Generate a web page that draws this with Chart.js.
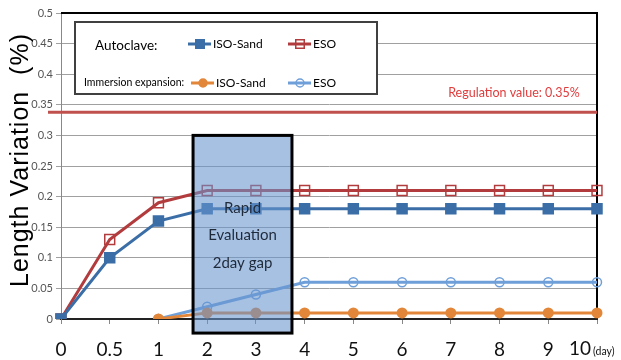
<!DOCTYPE html>
<html>
<head>
<meta charset="utf-8">
<script src="https://cdn.jsdelivr.net/npm/chart.js@4.4.1/dist/chart.umd.min.js"></script>
<style>
  html, body { margin: 0; padding: 0; background: #fff; }
  #wrap { width: 621px; height: 360px; }
</style>
</head>
<body>
<div id="wrap"><canvas id="grafik"></canvas></div>
<script>
// data
const hari = ['0', '0.5', '1', '2', '3', '4', '5', '6', '7', '8', '9', '10'];
const autoIsoSand = [0, 0.10, 0.16, 0.18, 0.18, 0.18, 0.18, 0.18, 0.18, 0.18, 0.18, 0.18];
const autoEso = [0, 0.13, 0.19, 0.21, 0.21, 0.21, 0.21, 0.21, 0.21, 0.21, 0.21, 0.21];
const immIsoSand = [null, null, 0, 0.01, 0.01, 0.01, 0.01, 0.01, 0.01, 0.01, 0.01, 0.01];
const immEso = [null, null, 0, 0.02, 0.04, 0.06, 0.06, 0.06, 0.06, 0.06, 0.06, 0.06];
const yTicks = [0, 0.05, 0.1, 0.15, 0.2, 0.25, 0.3, 0.35, 0.4, 0.45, 0.5];
const regulationValue = 0.338;
// shaded "2day gap" box, in category index / value units
const gapBox = { x0: 2.71, x1: 4.74, y0: -0.023, y1: 0.30 };

const SEMPIT = "Lato, 'Open Sans', sans-serif";

const warna = {
  autoIso: '#3b6ea6',
  autoEso: '#b23c3d',
  immIso: '#e2873a',
  immEso: '#6f9fd9',
};

function drawMark(ctx, style, x, y, r, color, filled) {
  ctx.save();
  ctx.lineWidth = 1.5;
  ctx.strokeStyle = color;
  ctx.fillStyle = filled ? color : '#fff';
  ctx.beginPath();
  if (style === 'rect') {
    const s = r * Math.SQRT1_2;
    ctx.rect(x - s, y - s, 2 * s, 2 * s);
  } else {
    ctx.arc(x, y, r, 0, Math.PI * 2);
  }
  if (filled) ctx.fill();
  ctx.stroke();
  ctx.restore();
}

const hiasan = {
  id: 'hiasan',
  beforeDatasetsDraw(chart) {
    const { ctx, chartArea, scales } = chart;
    // plot frame top and right
    ctx.save();
    ctx.strokeStyle = '#000';
    ctx.lineWidth = 2;
    ctx.beginPath();
    ctx.moveTo(chartArea.left, chartArea.top);
    ctx.lineTo(chartArea.right, chartArea.top);
    ctx.lineTo(chartArea.right, chartArea.bottom);
    ctx.stroke();
    // regulation line
    const yr = scales.y.getPixelForValue(regulationValue);
    ctx.strokeStyle = '#c0504d';
    ctx.lineWidth = 3;
    ctx.beginPath();
    ctx.moveTo(chartArea.left - 13, yr);
    ctx.lineTo(chartArea.right, yr);
    ctx.stroke();
    ctx.fillStyle = '#e03c3c';
    ctx.font = '12.5px ' + SEMPIT;
    ctx.textAlign = 'center';
    ctx.textBaseline = 'middle';
    ctx.fillText('Regulation value: 0.35%', 514, yr - 19);
    // y axis title
    ctx.save();
    ctx.translate(28, 160);
    ctx.rotate(-Math.PI / 2);
    ctx.fillStyle = '#000';
    ctx.font = "25px 'Liberation Sans', Arial, sans-serif";
    ctx.letterSpacing = '1px';
    ctx.textBaseline = 'alphabetic';
    ctx.fillText('Length Variation  (%)', 0, 0);
    ctx.restore();
    ctx.restore();
  },
  afterDatasetsDraw(chart) {
    const { ctx, chartArea, scales } = chart;
    ctx.save();
    // gap box
    const bx0 = scales.x.getPixelForValue(gapBox.x0);
    const bx1 = scales.x.getPixelForValue(gapBox.x1);
    const by0 = scales.y.getPixelForValue(gapBox.y1);
    const by1 = scales.y.getPixelForValue(gapBox.y0);
    ctx.fillStyle = 'rgba(104, 148, 206, 0.58)';
    ctx.fillRect(bx0, by0, bx1 - bx0, by1 - by0);
    ctx.strokeStyle = '#000';
    ctx.lineWidth = 3;
    ctx.strokeRect(bx0, by0, bx1 - bx0, by1 - by0);
    ctx.fillStyle = '#1f2a3a';
    ctx.font = '15px ' + SEMPIT;
    ctx.textAlign = 'center';
    ctx.textBaseline = 'middle';
    const cx = (bx0 + bx1) / 2;
    ctx.fillText('Rapid', cx, 208);
    ctx.fillText('Evaluation', cx, 235);
    ctx.fillText('2day gap', cx, 263);

    // legend box
    ctx.fillStyle = '#fff';
    ctx.fillRect(75, 22, 302, 72);
    ctx.strokeStyle = '#404040';
    ctx.lineWidth = 2;
    ctx.strokeRect(75, 22, 302, 72);
    ctx.fillStyle = '#000';
    ctx.textAlign = 'left';
    ctx.font = '13.5px ' + SEMPIT;
    ctx.fillText('Autoclave:', 95, 46);
    ctx.font = '10.5px ' + SEMPIT;
    ctx.fillText('Immersion expansion:', 84, 83);
    const items = [
      { x: 188, y: 44, c: warna.autoIso, s: 'rect', f: true, t: 'ISO-Sand' },
      { x: 288, y: 44, c: warna.autoEso, s: 'rect', f: false, t: 'ESO' },
      { x: 191, y: 83, c: warna.immIso, s: 'circle', f: true, t: 'ISO-Sand' },
      { x: 288, y: 83, c: warna.immEso, s: 'circle', f: false, t: 'ESO' },
    ];
    ctx.font = '12px ' + SEMPIT;
    items.forEach(it => {
      ctx.strokeStyle = it.c;
      ctx.lineWidth = 3;
      ctx.beginPath();
      ctx.moveTo(it.x, it.y);
      ctx.lineTo(it.x + 23, it.y);
      ctx.stroke();
      drawMark(ctx, it.s, it.x + 12, it.y, it.s === 'rect' ? 6 : 4, it.c, it.f);
      ctx.fillStyle = '#000';
      ctx.fillText(it.t, it.x + 25, it.y);
    });

    // last x label sits left of its tick, then the unit
    const lastIdx = hari.length - 1;
    const xLast = scales.x.getPixelForTick(lastIdx);
    ctx.fillStyle = '#111';
    ctx.font = '19px ' + SEMPIT;
    ctx.textAlign = 'right';
    ctx.fillText(hari[lastIdx], xLast - 6, 349);
    ctx.textAlign = 'left';
    ctx.font = '10.5px ' + SEMPIT;
    ctx.fillText('(day)', xLast - 4, 352);
    ctx.restore();
  }
};

const data = {
  labels: hari,
  datasets: [
    {
      label: 'Immersion ISO-Sand',
      data: immIsoSand,
      borderColor: warna.immIso,
      backgroundColor: warna.immIso,
      pointStyle: 'circle',
      pointRadius: 4,
      pointBackgroundColor: warna.immIso,
      borderWidth: 3,
    },
    {
      label: 'Immersion ESO',
      data: immEso,
      borderColor: warna.immEso,
      backgroundColor: warna.immEso,
      pointStyle: 'circle',
      pointRadius: 4.5,
      pointBorderWidth: 1.5,
      pointBackgroundColor: 'rgba(255,255,255,0)',
      borderWidth: 3,
    },
    {
      label: 'Autoclave ISO-Sand',
      data: autoIsoSand,
      borderColor: warna.autoIso,
      backgroundColor: warna.autoIso,
      pointStyle: 'rect',
      pointRadius: 6,
      pointBackgroundColor: warna.autoIso,
      borderWidth: 3,
    },
    {
      label: 'Autoclave ESO',
      data: autoEso,
      borderColor: warna.autoEso,
      backgroundColor: warna.autoEso,
      pointStyle: 'rect',
      pointRadius: 7,
      pointBorderWidth: 1.5,
      pointBackgroundColor: 'rgba(255,255,255,0)',
      borderWidth: 3,
    },
  ]
};

const config = {
  type: 'line',
  data: data,
  options: {
    responsive: true,
    maintainAspectRatio: false,
    animation: false,
    layout: {
      padding: { top: 13, right: 24, left: 0, bottom: 0 }
    },
    scales: {
      x: {
        offset: false,
        grid: {
          drawOnChartArea: false,
          drawTicks: true,
          tickLength: 5,
          color: '#888',
        },
        border: { color: '#222', width: 2 },
        ticks: {
          autoSkip: false,
          maxRotation: 0,
          padding: 14,
          color: '#111',
          font: { size: 19, family: SEMPIT },
          // the last label is drawn by the plugin, shifted left like the original
          callback: (v, i) => (i === hari.length - 1 ? '' : hari[i]),
        },
        afterFit(scale) { scale.height = 41; }
      },
      y: {
        min: 0,
        max: 0.5,
        afterBuildTicks(scale) {
          scale.ticks = yTicks.map(v => ({ value: v }));
        },
        grid: {
          color: '#a0a0a0',
          lineWidth: 1,
          tickLength: 5,
        },
        border: { color: '#888', width: 1 },
        ticks: {
          padding: 3,
          color: '#555',
          font: { size: 11, family: SEMPIT },
          callback: v => String(v),
        },
        afterFit(scale) { scale.width = 61; }
      }
    },
    plugins: {
      legend: { display: false },
      tooltip: { enabled: false },
    }
  },
  plugins: [hiasan],
};

// render init block
const myChart = new Chart(
  document.getElementById('grafik'),
  config
);
</script>
</body>
</html>
